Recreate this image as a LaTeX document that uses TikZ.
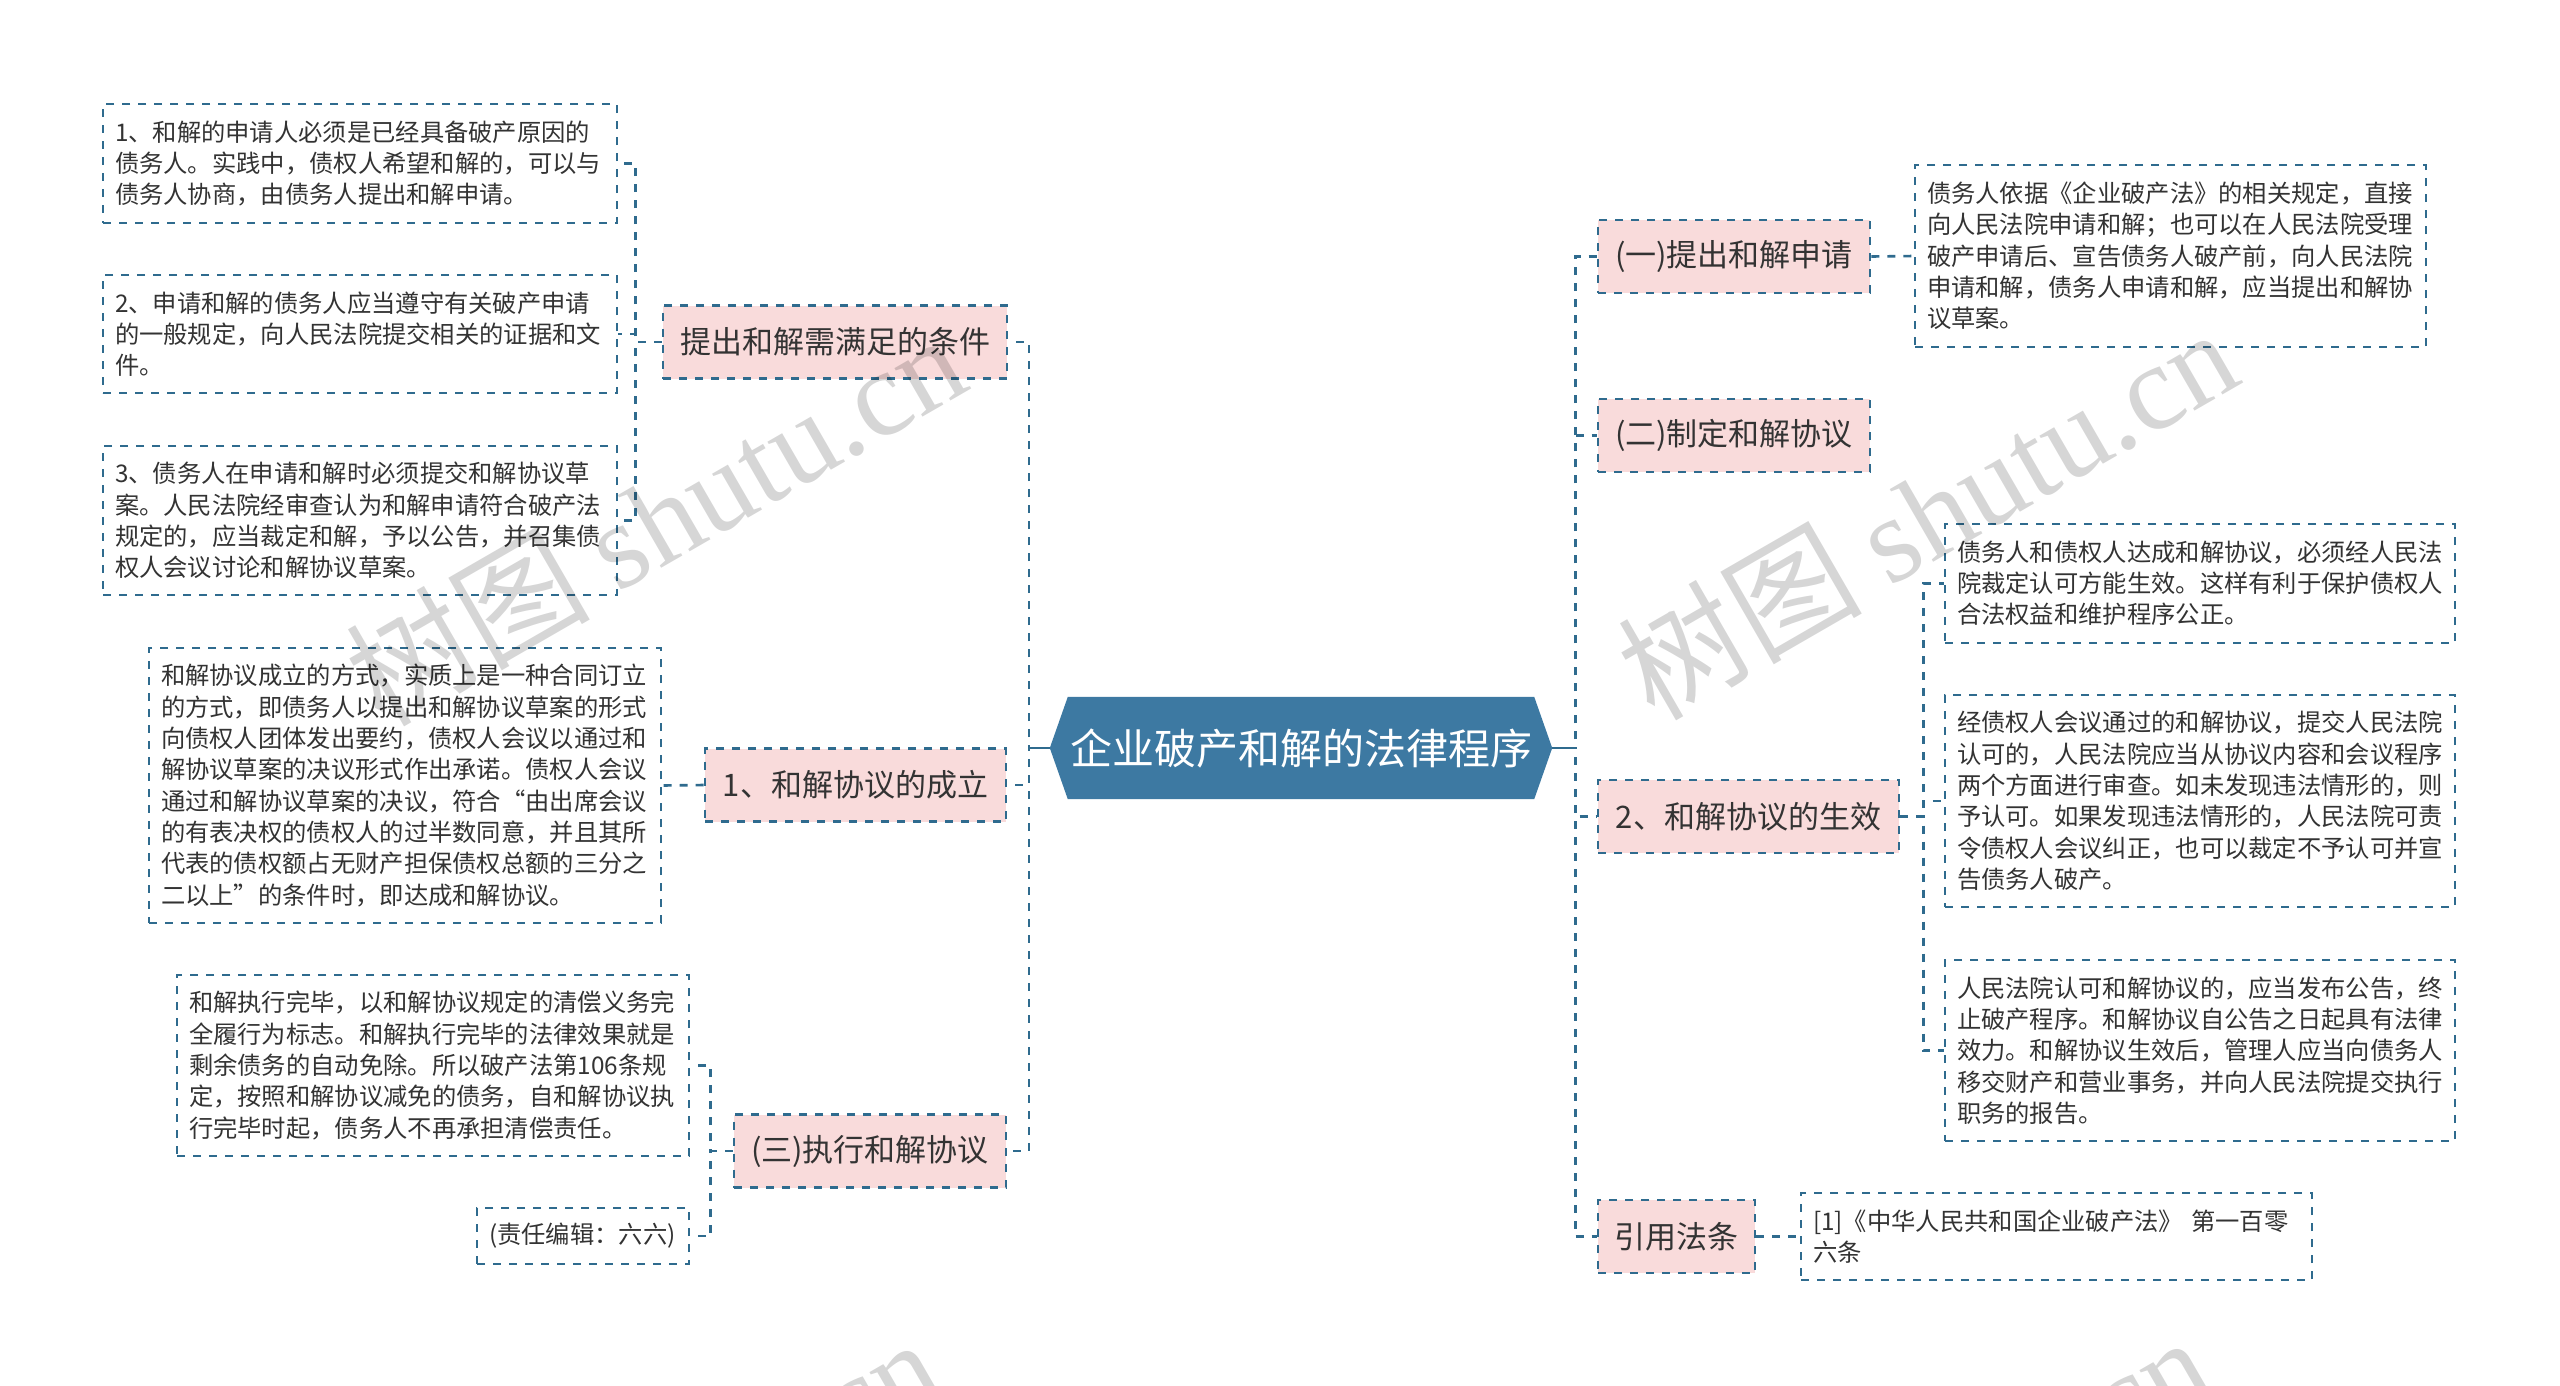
\documentclass[tikz,border=0pt]{standalone}
\usepackage{fontspec}
\setmainfont{Noto Sans CJK SC}
\newfontfamily\wmlat{Liberation Serif}
\usetikzlibrary{backgrounds}
\definecolor{bc}{HTML}{2F6B8E}
\definecolor{hexc}{HTML}{3D79A2}
\definecolor{pinkc}{HTML}{F9DBDB}
\definecolor{txt}{HTML}{333333}
\begin{document}
\begin{tikzpicture}[x=1pt,y=-1pt,
 dsh/.style={dash pattern=on 8pt off 8pt, line width=2.6pt, draw=bc},
 leaf/.style={dsh, inner xsep=12pt, inner ysep=0pt, font=\fontsize{24.3pt}{31.3pt}\selectfont, text=txt, align=left},
 topic/.style={dsh, fill=pinkc, inner sep=0pt, font=\fontsize{31pt}{36pt}\selectfont, text=txt, minimum height=73pt},
 rootn/.style={inner sep=0pt, minimum width=502pt, minimum height=102pt, text=white, font=\fontsize{42pt}{48pt}\selectfont},
 conn/.style={dsh},
 solidc/.style={draw=bc, line width=2.6pt},
 wm/.style={rotate=30, inner sep=0pt, anchor=east, text=black, opacity=0.16, font=\fontsize{122pt}{130pt}\selectfont}
]
\useasboundingbox (0,0) rectangle (2560,1385);

% root
\node[rootn] (root) at (1301,748) {企业破产和解的法律程序};
\begin{scope}[on background layer]
\fill[white] (0,0) rectangle (2560,1385);
\fill[hexc] (root.west) -- ([xshift=18pt]root.north west) -- ([xshift=-18pt]root.north east) -- (root.east) -- ([xshift=-18pt]root.south east) -- ([xshift=18pt]root.south west) -- cycle;
\end{scope}

% left topics
\node[topic, minimum width=344pt] (n1) at (835,342) {提出和解需满足的条件};
\node[topic, minimum width=301pt] (n2) at (855.5,785) {1、和解协议的成立};
\node[topic, minimum width=272pt] (n3) at (870,1151) {(三)执行和解协议};

% right topics
\node[topic, minimum width=272pt] (r1) at (1734,256.5) {(一)提出和解申请};
\node[topic, minimum width=272pt] (r2) at (1734,435.5) {(二)制定和解协议};
\node[topic, minimum width=301pt] (r3) at (1748.5,816.5) {2、和解协议的生效};
\node[topic, minimum width=157pt] (r4) at (1676.5,1236.5) {引用法条};

% left leaves
\node[leaf, text width=490pt, minimum height=119pt] (a1) at (360,163.5) {1、和解的申请人必须是已经具备破产原因的\\债务人。实践中，债权人希望和解的，可以与\\债务人协商，由债务人提出和解申请。};
\node[leaf, text width=490pt, minimum height=118pt] (a2) at (360,334) {2、申请和解的债务人应当遵守有关破产申请\\的一般规定，向人民法院提交相关的证据和文\\件。};
\node[leaf, text width=490pt, minimum height=149pt] (a3) at (360,520.5) {3、债务人在申请和解时必须提交和解协议草\\案。人民法院经审查认为和解申请符合破产法\\规定的，应当裁定和解，予以公告，并召集债\\权人会议讨论和解协议草案。};
\node[leaf, text width=488pt, minimum height=275pt] (b1) at (405,785.5) {和解协议成立的方式，实质上是一种合同订立\\的方式，即债务人以提出和解协议草案的形式\\向债权人团体发出要约，债权人会议以通过和\\解协议草案的决议形式作出承诺。债权人会议\\通过和解协议草案的决议，符合“由出席会议\\的有表决权的债权人的过半数同意，并且其所\\代表的债权额占无财产担保债权总额的三分之\\二以上”的条件时，即达成和解协议。};
\node[leaf, text width=488pt, minimum height=181pt] (c1) at (433,1065.5) {和解执行完毕，以和解协议规定的清偿义务完\\全履行为标志。和解执行完毕的法律效果就是\\剩余债务的自动免除。所以破产法第106条规\\定，按照和解协议减免的债务，自和解协议执\\行完毕时起，债务人不再承担清偿责任。};
\node[leaf, text width=188pt, minimum height=56pt] (c2) at (583,1236) {(责任编辑：六六)};

% right leaves
\node[leaf, text width=487pt, minimum height=182pt] (d1) at (2170.5,256) {债务人依据《企业破产法》的相关规定，直接\\向人民法院申请和解；也可以在人民法院受理\\破产申请后、宣告债务人破产前，向人民法院\\申请和解，债务人申请和解，应当提出和解协\\议草案。};
\node[leaf, text width=486pt, minimum height=119pt] (e1) at (2200,583.5) {债务人和债权人达成和解协议，必须经人民法\\院裁定认可方能生效。这样有利于保护债权人\\合法权益和维护程序公正。};
\node[leaf, text width=486pt, minimum height=212pt] (e2) at (2200,801) {经债权人会议通过的和解协议，提交人民法院\\认可的，人民法院应当从协议内容和会议程序\\两个方面进行审查。如未发现违法情形的，则\\予认可。如果发现违法情形的，人民法院可责\\令债权人会议纠正，也可以裁定不予认可并宣\\告债务人破产。};
\node[leaf, text width=486pt, minimum height=181pt] (e3) at (2200,1050.5) {人民法院认可和解协议的，应当发布公告，终\\止破产程序。和解协议自公告之日起具有法律\\效力。和解协议生效后，管理人应当向债务人\\移交财产和营业事务，并向人民法院提交执行\\职务的报告。};
\node[leaf, text width=487pt, minimum height=87pt] (f1) at (2056.5,1236.5) {[1]《中华人民共和国企业破产法》 第一百零\\六条};

% trunk connectors
\draw[conn] (root.west) -- ++(-21,0) |- (n1.east);
\draw[conn] (root.west) -- ++(-21,0) |- (n2.east);
\draw[conn] (root.west) -- ++(-21,0) |- (n3.east);
\draw[solidc] (root.west) -- ++(-21,0);
\draw[conn] (root.east) -- ++(23,0) |- (r1.west);
\draw[conn] (root.east) -- ++(23,0) |- (r2.west);
\draw[conn] (root.east) -- ++(23,0) |- (r3.west);
\draw[conn] (root.east) -- ++(23,0) |- (r4.west);
\draw[solidc] (root.east) -- ++(23,0);

% branch connectors
\draw[conn] (n1.west) -- ++(-26,0) |- (a1.east);
\draw[conn] (n1.west) -- ++(-26,0) |- (a2.east);
\draw[conn] (n1.west) -- ++(-26,0) |- (a3.east);
\draw[conn] (n2.west) -- (b1.east);
\draw[conn] (n3.west) -- ++(-22,0) |- (c1.east);
\draw[conn] (n3.west) -- ++(-22,0) |- (c2.east);
\draw[conn] (r1.east) -- (d1.west);
\draw[conn] (r3.east) -- ++(23,0) |- (e1.west);
\draw[conn] (r3.east) -- ++(23,0) |- (e2.west);
\draw[conn] (r3.east) -- ++(23,0) |- (e3.west);
\draw[conn] (r4.east) -- (f1.west);

% watermarks
\node[wm] (wm1) at (950,348) {树图 {\wmlat shutu.cn}};
\node[wm] (wm2) at (2222,342) {树图 {\wmlat shutu.cn}};
\node[wm] (wm3) at (925,1352) {树图 {\wmlat shutu.cn}};
\node[wm] (wm4) at (2195,1350) {树图 {\wmlat shutu.cn}};
\end{tikzpicture}
\end{document}
